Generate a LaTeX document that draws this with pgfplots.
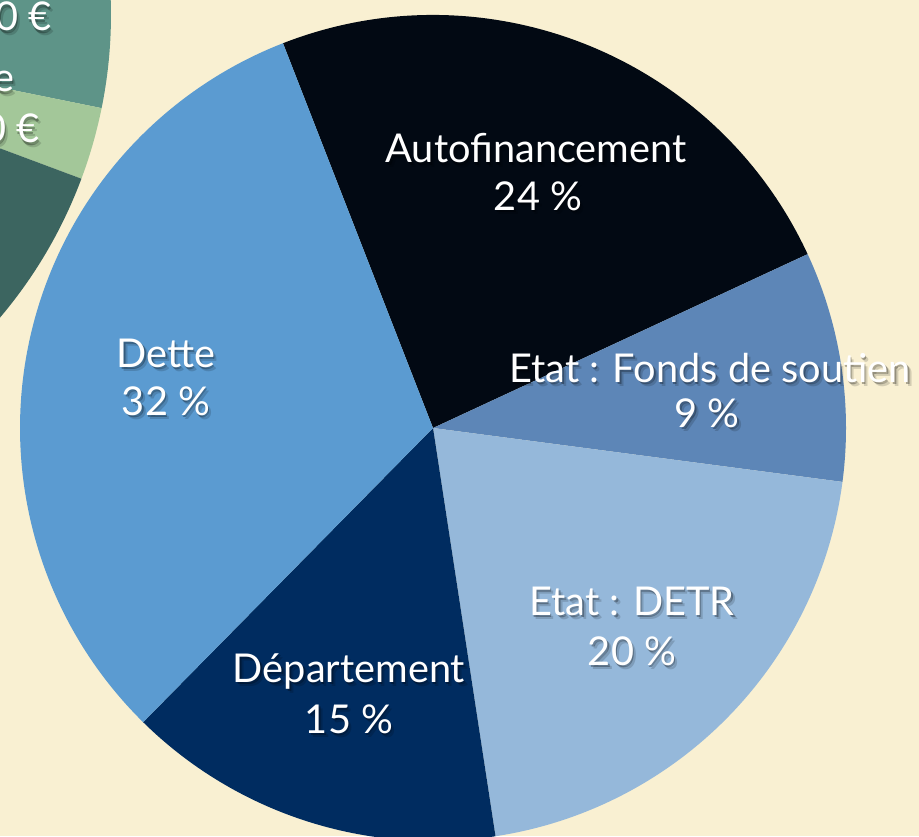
\documentclass[border=0pt]{standalone}
\usepackage{pgfplots}
\pgfplotsset{compat=1.18}
\usepackage{pgfplotstable}
\usepackage{fontspec}
\setmainfont{Lato}

\definecolor{paper}{HTML}{F9F0D2}
\definecolor{pie0}{HTML}{020913}  % Autofinancement
\definecolor{pie1}{HTML}{5D86B7}  % Etat : Fonds de soutien
\definecolor{pie2}{HTML}{95B8DA}  % Etat : DETR
\definecolor{pie3}{HTML}{002C60}  % Departement
\definecolor{pie4}{HTML}{5B9BD1}  % Dette
\definecolor{grn0}{HTML}{5E9488}
\definecolor{grn1}{HTML}{A3C799}
\definecolor{grn2}{HTML}{3C6560}

% shares in %, clockwise
\pgfplotstableread{
val
24.0
9.0
20.5
14.8
31.7
}\piedata

% the other chart, cut off at the top left
\pgfplotstableread{
val
8.8
2.5
20.0
}\greendata

% start/end angle of every slice -> \<prefix>S<i>, \<prefix>E<i>
\newcommand\pieangles[3]{%
  \def\acc{#2}%
  \pgfplotstablegetrowsof{#1}%
  \pgfmathtruncatemacro\last{\pgfplotsretval-1}%
  \pgfplotsforeachungrouped \i in {0,...,\last}{%
    \pgfplotstablegetelem{\i}{val}\of{#1}%
    \pgfmathsetmacro\nxt{\acc-3.6*\pgfplotsretval}%
    \expandafter\xdef\csname #3S\i\endcsname{\acc}%
    \expandafter\xdef\csname #3E\i\endcsname{\nxt}%
    \xdef\acc{\nxt}%
  }%
}

\tikzset{lbl/.style={font=\fontsize{11.3}{13}\selectfont, inner sep=0pt}}

% label with a soft shadow
\newcommand\lab[4][base]{%
  \node[lbl, anchor=#1, text=black, opacity=.15] at ([xshift=.35mm,yshift=-.45mm]axis cs:#2,#3) {#4};
  \node[lbl, anchor=#1, text=black, opacity=.3] at ([xshift=.15mm,yshift=-.25mm]axis cs:#2,#3) {#4};
  \node[lbl, anchor=#1, text=white] at (axis cs:#2,#3) {#4};
}

\begin{document}
\begin{tikzpicture}
  \pieangles{\piedata}{111.3}{pS}
  \pieangles{\greendata}{20.2}{gS}

  \useasboundingbox (0,0) rectangle (91.9mm,83.6mm);
  \clip (0,0) rectangle (91.9mm,83.6mm);
  \fill[paper] (0,0) rectangle (91.9mm,83.6mm);

  \begin{axis}[
      at={(0,0)}, anchor=south west,
      width=91.9mm, height=83.6mm, scale only axis,
      xmin=0, xmax=919, ymin=0, ymax=836,
      hide axis,
    ]
    % green chart, top left
    \pgfplotsinvokeforeach{0,...,2}{
      \fill[grn#1] (axis cs:-357,821) -- ++(\csname gSS#1\endcsname:46.8mm)
        arc[start angle=\csname gSS#1\endcsname, end angle=\csname gSE#1\endcsname, radius=46.8mm] -- cycle;
    }
    \lab[base east]{52}{805}{300 000 €}
    \lab[base east]{15}{744}{Commune}
    \lab[base east]{40}{693}{40 000 €}

    % main chart
    \pgfplotsinvokeforeach{0,...,4}{
      \fill[pie#1] (axis cs:433,408) -- ++(\csname pSS#1\endcsname:41.3mm)
        arc[start angle=\csname pSS#1\endcsname, end angle=\csname pSE#1\endcsname, radius=41.3mm] -- cycle;
    }

    \lab{536}{673}{Autofinancement}
    \lab{538}{626}{24 \%}
    \lab{710}{454}{Etat : Fonds de soutien}
    \lab{707}{409}{9 \%}
    \lab{632}{221}{Etat : DETR}
    \lab{632}{171}{20 \%}
    \lab{349}{154}{Département}
    \lab{349}{103}{15 \%}
    \lab{166}{469}{Dette}
    \lab{166}{421}{32 \%}
  \end{axis}
\end{tikzpicture}
\end{document}
